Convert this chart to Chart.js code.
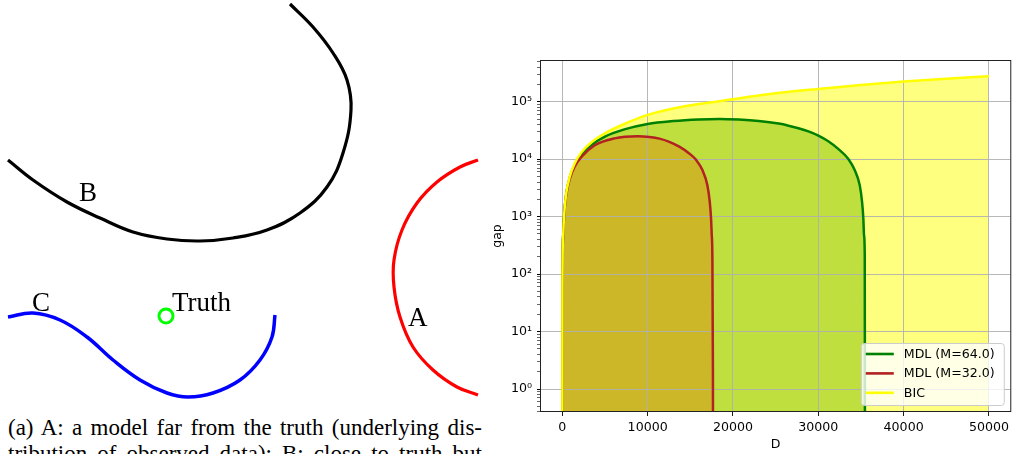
<!DOCTYPE html>
<html>
<head>
<meta charset="utf-8">
<script src="https://cdn.jsdelivr.net/npm/chart.js@4.4.0/dist/chart.umd.min.js"></script>
<style>
html, body { margin: 0; padding: 0; width: 1013px; height: 454px; overflow: hidden; background: #fff; }
#sketch { position: absolute; left: 0; top: 0; }
#gap_chart { position: absolute; left: 486px; top: 0; }
.caption { position: absolute; left: 8px; top: 415px; width: 474px; font-family: "Liberation Serif", serif; font-size: 23px; line-height: 26px; color: #000; }
.caption div { text-align: justify; text-align-last: justify; }
</style>
</head>
<body>
<canvas id="sketch" width="482" height="410"></canvas>
<canvas id="gap_chart" width="527" height="454"></canvas>
<div class="caption">
    <div>(a) A: a model far from the truth (underlying dis-</div>
    <div>tribution of observed data); B: close to truth but</div>
</div>
<script>
// (a) sketch: curves, in panel units
const curveB = [[8, 160], [33, 180], [67, 202], [100, 218], [133, 232], [167, 239], [200, 241], [233, 238], [267, 230], [300, 213], [327, 187], [343, 153], [351, 110], [347, 80], [333, 53], [313, 27], [290, 4]];
const curveC = [[8, 317], [33, 313], [60, 320], [87, 337], [113, 360], [140, 380], [167, 393], [188, 397], [213, 393], [240, 380], [260, 360], [272, 337], [275, 315]];
const curveA = [[478, 160], [460, 167], [437, 182], [417, 203], [402, 230], [394, 260], [394, 287], [400, 317], [413, 347], [433, 370], [457, 387], [478, 395]];
const truth = [166, 316];
const sketchNames = ['B', 'C', 'Truth', 'A'];

// (b) gap vs D
const bicD = [0, 10, 81, 163, 280, 466, 862, 1444, 2212, 3377, 4937, 7266, 10000, 14660, 18000, 25000, 30000, 35000, 40000, 45000, 50000];
const bicGap = [0.05, 55, 420, 800, 1450, 2600, 4900, 8400, 1.3e4, 1.95e4, 2.8e4, 4.1e4, 5.9e4, 8.5e4, 1.0e5, 1.4e5, 1.67e5, 1.96e5, 2.25e5, 2.52e5, 2.78e5];
const mdl64D = [0, 10, 81, 163, 280, 466, 862, 1444, 2212, 3377, 4937, 7266, 10000, 13000, 16000, 18363, 20692, 23021, 25350, 26514, 27677, 28842, 30006, 31170, 32335, 33499, 34279, 34861, 35129, 35280, 35362, 35444, 35460, 35470];
const mdl64Gap = [0.05, 55, 415, 790, 1420, 2550, 4750, 7900, 1.2e4, 1.75e4, 2.45e4, 3.3e4, 4.1e4, 4.6e4, 4.9e4, 5.0e4, 4.88e4, 4.61e4, 4.16e4, 3.83e4, 3.45e4, 3.04e4, 2.57e4, 2.05e4, 1.51e4, 1.02e4, 6400, 3500, 1800, 920, 470, 212, 2, 0.05];
const mdl32D = [0, 10, 81, 163, 280, 466, 862, 1444, 2260, 3800, 6100, 8850, 10212, 11376, 12541, 13705, 14870, 15650, 16418, 17000, 17280, 17431, 17513, 17583, 17650, 17665];
const mdl32Gap = [0.05, 55, 410, 780, 1400, 2450, 4500, 7400, 1.1e4, 1.75e4, 2.3e4, 2.5e4, 2.43e4, 2.28e4, 2.0e4, 1.65e4, 1.26e4, 9840, 6460, 3520, 1800, 923, 472, 212, 2, 0.05];
const seriesNames = ['BIC', 'MDL (M=32.0)', 'MDL (M=64.0)'];
const xTicks = [0, 10000, 20000, 30000, 40000, 50000];
const yTicks = [1, 10, 100, 1000, 10000, 100000];

const sup = '⁰¹²³⁴⁵⁶⁷⁸⁹';
const toPoints = arr => arr.map(p => ({ x: p[0], y: p[1] }));
const zip = (xs, ys) => xs.map((x, i) => ({ x: x, y: ys[i] }));

Chart.defaults.font.family = '"DejaVu Sans", sans-serif';
Chart.defaults.color = '#000';

const sketchLabels = {
    id: 'sketchLabels',
    afterDatasetsDraw(chart, args, opts) {
        const { ctx, scales } = chart;
        ctx.save();
        ctx.font = '27px "Liberation Serif", serif';
        ctx.fillStyle = '#000';
        ctx.textBaseline = 'alphabetic';
        opts.items.forEach(it => {
            ctx.fillText(it.text, scales.x.getPixelForValue(it.x), scales.y.getPixelForValue(it.y));
        });
        ctx.restore();
    }
};

new Chart(document.getElementById('sketch'), {
    type: 'scatter',
    data: {
        datasets: [
            { data: toPoints(curveB), showLine: true, borderColor: '#000000', borderWidth: 3.2, pointRadius: 0, tension: 0.4 },
            { data: toPoints(curveC), showLine: true, borderColor: '#0000ff', borderWidth: 3.5, pointRadius: 0, tension: 0.4 },
            { data: toPoints(curveA), showLine: true, borderColor: '#ff0000', borderWidth: 3.2, pointRadius: 0, tension: 0.4 },
            { data: [{ x: truth[0], y: truth[1] }], pointRadius: 7, pointBorderWidth: 3, pointBorderColor: '#00ff00', pointBackgroundColor: '#ffffff' }
        ]
    },
    options: {
        responsive: false,
        animation: false,
        clip: false,
        layout: { padding: 0, autoPadding: false },
        scales: {
            x: { type: 'linear', min: 0, max: 482, display: false },
            y: { type: 'linear', min: 0, max: 410, reverse: true, display: false }
        },
        plugins: {
            legend: { display: false },
            tooltip: { enabled: false },
            sketchLabels: {
                items: [
                    { text: sketchNames[0], x: 79, y: 201 },
                    { text: sketchNames[1], x: 32, y: 311 },
                    { text: sketchNames[2], x: 172, y: 311 },
                    { text: sketchNames[3], x: 408, y: 326 }
                ]
            }
        }
    },
    plugins: [sketchLabels]
});

// frame round the plot like matplotlib spines
const frame = {
    id: 'frame',
    afterDatasetsDraw(chart) {
        const a = chart.chartArea;
        const ctx = chart.ctx;
        ctx.save();
        ctx.strokeStyle = '#222';
        ctx.lineWidth = 1;
        ctx.strokeRect(Math.round(a.left) - 0.5, Math.round(a.top) + 0.5, a.right - a.left + 1, Math.round(a.bottom) - Math.round(a.top) - 1);
        ctx.restore();
    }
};

// legend box in the lower right corner
const legendBox = {
    id: 'legendBox',
    afterDraw(chart) {
        const ctx = chart.ctx;
        const a = chart.chartArea;
        const w = 143, h = 62;
        const x = a.right - 6.5 - w, y = a.bottom - 7 - h;
        ctx.save();
        ctx.beginPath();
        ctx.roundRect(x + 0.5, y + 0.5, w, h, 3);
        ctx.fillStyle = 'rgba(255,255,255,0.8)';
        ctx.fill();
        ctx.strokeStyle = '#cccccc';
        ctx.lineWidth = 1;
        ctx.stroke();
        ctx.font = '12.6px "DejaVu Sans"';
        ctx.textBaseline = 'middle';
        [2, 1, 0].forEach((di, row) => {
            const ds = chart.data.datasets[di];
            const cy = y + 11 + row * 19.4;
            ctx.strokeStyle = ds.borderColor;
            ctx.lineWidth = 2.6;
            ctx.beginPath();
            ctx.moveTo(x + 5, cy);
            ctx.lineTo(x + 33, cy);
            ctx.stroke();
            ctx.fillStyle = '#000';
            ctx.fillText(ds.label, x + 43, cy + 0.5);
        });
        ctx.restore();
    }
};

const isPow10 = v => Math.abs(Math.log10(v) - Math.round(Math.log10(v))) < 1e-9;

new Chart(document.getElementById('gap_chart'), {
    type: 'line',
    data: {
        datasets: [
            { label: seriesNames[0], data: zip(bicD, bicGap), borderColor: '#ffff00', backgroundColor: 'rgba(255,255,0,0.5)', fill: 'start' },
            { label: seriesNames[1], data: zip(mdl32D, mdl32Gap), borderColor: '#b22222', backgroundColor: 'rgba(178,34,34,0.5)', fill: 'start' },
            { label: seriesNames[2], data: zip(mdl64D, mdl64Gap), borderColor: '#008000', backgroundColor: 'rgba(0,128,0,0.5)', fill: 'start' }
        ]
    },
    options: {
        responsive: false,
        animation: false,
        layout: { padding: { top: 60, right: 0.5, left: 0, bottom: 0 } },
        elements: {
            point: { radius: 0 },
            line: { borderWidth: 2.5, cubicInterpolationMode: 'monotone' }
        },
        scales: {
            x: {
                type: 'linear',
                min: -2500,
                max: 52500,
                afterBuildTicks: s => { s.ticks = xTicks.map(v => ({ value: v })); },
                afterFit: s => { s.height = 42; },
                ticks: { callback: v => String(v), font: { size: 12.6 }, color: '#000', padding: 4, maxRotation: 0 },
                grid: { color: '#b0b0b0', lineWidth: 0.9, tickColor: '#000', tickLength: 4 },
                border: { display: false },
                title: { display: true, text: 'D', font: { size: 12.6 }, color: '#000', padding: { top: 0, bottom: 1.5 } }
            },
            y: {
                type: 'logarithmic',
                min: 0.398,
                max: 5.32e5,
                afterBuildTicks: s => {
                    const t = [];
                    yTicks.concat([0.1]).forEach(p => {
                        for (let k = 1; k < 10; k++) {
                            const v = p * k;
                            if (v >= s.min && v <= s.max) t.push({ value: v, major: k === 1 });
                        }
                    });
                    t.sort((a, b) => a.value - b.value);
                    s.ticks = t;
                },
                afterFit: s => { s.width = 55; },
                ticks: {
                    autoSkip: false,
                    font: { size: 12.6 },
                    color: '#000',
                    padding: 5,
                    callback: v => {
                        if (!isPow10(v)) return '';
                        const e = Math.round(Math.log10(v));
                        return e >= 0 ? '10' + String(e).split('').map(d => sup[+d]).join('') : '';
                    }
                },
                grid: {
                    color: c => (c.tick && isPow10(c.tick.value) ? '#b0b0b0' : 'rgba(0,0,0,0)'),
                    lineWidth: 0.9,
                    tickColor: '#000',
                    tickWidth: c => (c.tick && isPow10(c.tick.value) ? 1 : 0.6),
                    tickLength: 4
                },
                border: { display: false },
                title: { display: true, text: 'gap', font: { size: 12.6 }, color: '#000', padding: { top: 4, bottom: 0 } }
            }
        },
        plugins: {
            legend: { display: false },
            tooltip: { enabled: false },
            filler: { drawTime: 'beforeDraw' }
        }
    },
    plugins: [frame, legendBox]
});
</script>
</body>
</html>
